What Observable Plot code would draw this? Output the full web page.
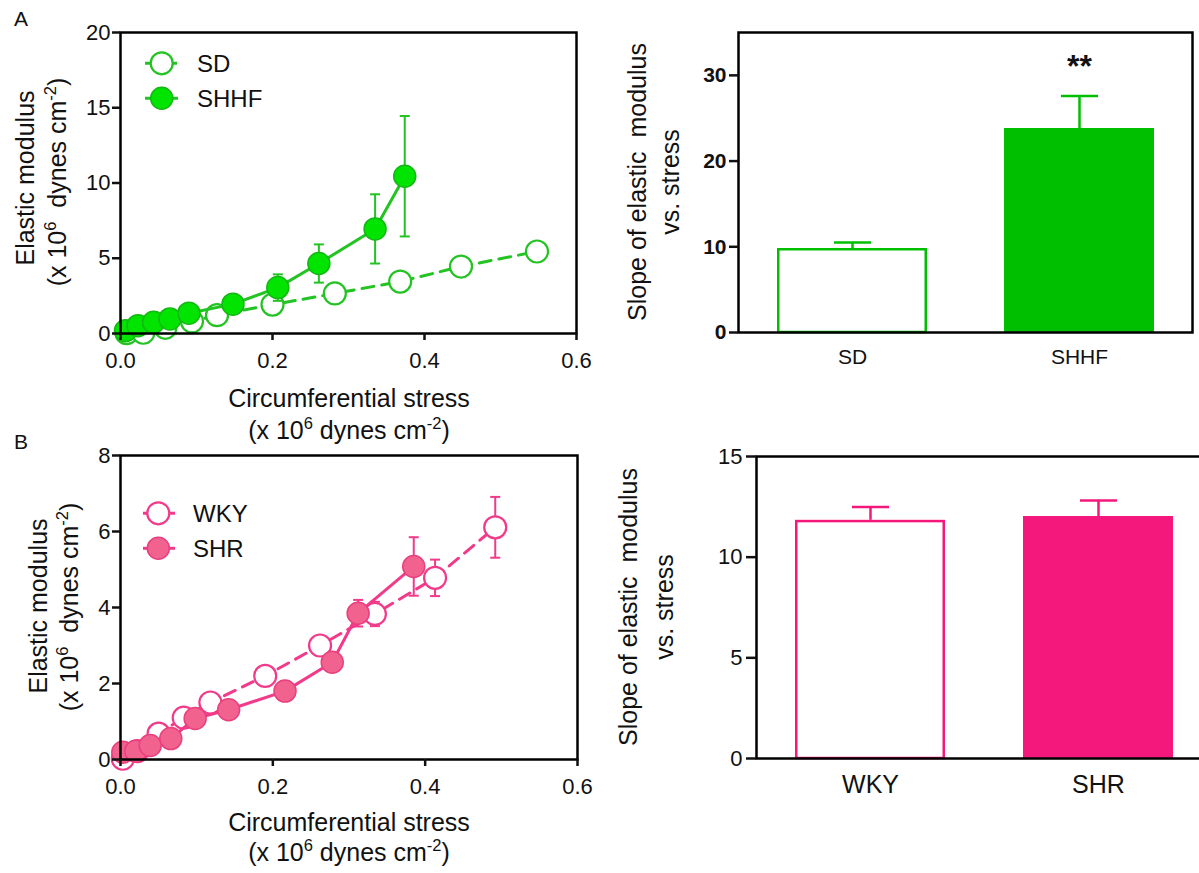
<!DOCTYPE html>
<html><head><meta charset="utf-8">
<script src="https://cdn.jsdelivr.net/npm/d3@7"></script>
<script src="https://cdn.jsdelivr.net/npm/@observablehq/plot@0.6"></script>
<style>
html,body{margin:0;padding:0;overflow:hidden;background:#fff;}
#fig{position:relative;width:1199px;height:873px;overflow:hidden;}
.panel{position:absolute;}
</style></head><body><div id="fig"></div>
<script>
// ---------- data ----------
const stressTicks = [0, 0.2, 0.4, 0.6];
const modulusTicksA = [0, 5, 10, 15, 20];
const modulusTicksB = [0, 2, 4, 6, 8];
const slopeTicksA = [0, 10, 20, 30];
const slopeTicksB = [0, 5, 10, 15];

// Panel A: SD (open) and SHHF (filled)
const sdStress   = [0.008, 0.030, 0.059, 0.094, 0.127, 0.200, 0.282, 0.368, 0.448, 0.548];
const sdModulus  = [0.02, 0.05, 0.38, 0.80, 1.22, 1.92, 2.66, 3.45, 4.45, 5.45];
const sdErr      = [0, 0, 0, 0, 0, 0.1, 0.15, 0.2, 0.25, 0.3];
const shhfStress = [0.0065, 0.023, 0.0435, 0.065, 0.090, 0.148, 0.207, 0.261, 0.335, 0.374];
const shhfModulus= [0.18, 0.52, 0.75, 0.97, 1.35, 1.95, 3.05, 4.65, 6.95, 10.45];
const shhfErr    = [0, 0, 0, 0, 0.2, 0.25, 0.88, 1.27, 2.3, 4.0];

// Panel B: WKY (open) and SHR (filled)
const wkyStress  = [0.003, 0.022, 0.050, 0.083, 0.118, 0.190, 0.262, 0.334, 0.413, 0.492];
const wkyModulus = [0.02, 0.22, 0.68, 1.10, 1.50, 2.20, 3.00, 3.83, 4.78, 6.11];
const wkyErr     = [0, 0, 0, 0, 0, 0, 0.15, 0.32, 0.48, 0.8];
const shrStress  = [0.003, 0.020, 0.039, 0.066, 0.098, 0.142, 0.216, 0.278, 0.312, 0.385];
const shrModulus = [0.19, 0.22, 0.37, 0.55, 1.08, 1.31, 1.80, 2.56, 3.85, 5.08];
const shrErr     = [0, 0, 0, 0, 0, 0, 0.1, 0.15, 0.35, 0.77];

// Slope bars
const slopeCatsA = ["SD", "SHHF"];
const slopeValsA = [9.8, 23.8];
const slopeErrA  = [0.7, 3.8];
const sigA       = ["", "**"];
const slopeCatsB = ["WKY", "SHR"];
const slopeValsB = [11.83, 12.02];
const slopeErrB  = [0.66, 0.8];
const sigB       = ["", ""];

// text
const panelLabels = ["A", "B"];
const xTitle1 = "Circumferential stress";
const yTitle1 = "Elastic modulus";
const slopeTitle1 = "Slope of elastic  modulus";
const slopeTitle2 = "vs. stress";

// ---------- style ----------
const FONT = '"Liberation Sans", Arial, Helvetica, sans-serif';
const green = {line: "#22c322", fill: "#00e400", edge: "#14b814", bar: "#00bf00"};
const pink  = {line: "#f23a8a", fill: "#f2628f", edge: "#e8407f", bar: "#f5187c"};
const TITLE = 25;

const capSym = { draw(ctx, size) { const w = Math.sqrt(size / Math.PI); ctx.moveTo(-w, 0); ctx.lineTo(w, 0); } };

const fig = document.getElementById("fig");
function place(svg, left, top, w, h) {
  const div = document.createElement("div");
  div.className = "panel";
  div.style.left = left + "px"; div.style.top = top + "px";
  div.style.width = w + "px"; div.style.height = h + "px";
  div.appendChild(svg);
  fig.appendChild(div);
  return d3.select(svg);
}

// rich text with superscripts: parts = [[text, isSup], ...]
function rich(sel, x, y, parts, size, opts = {}) {
  const t = sel.append("text")
    .attr("font-family", FONT).attr("font-size", size)
    .attr("fill", "#111").attr("text-anchor", opts.anchor || "middle")
    .style("white-space", "pre");
  if (opts.rotate) t.attr("transform", `translate(${x},${y}) rotate(-90)`);
  else t.attr("x", x).attr("y", y);
  if (opts.weight) t.attr("font-weight", opts.weight);
  const shift = size * 0.42;
  let raised = false;
  for (const [s, sup] of parts) {
    const sp = t.append("tspan").text(s);
    if (sup && !raised) { sp.attr("dy", -shift).attr("font-size", size * 0.66); raised = true; }
    else if (sup) { sp.attr("font-size", size * 0.66); }
    else if (!sup && raised) { sp.attr("dy", shift); raised = false; }
  }
  return t;
}
const unitsX = [["(x 10", 0], ["6", 1], [" dynes cm", 0], ["-2", 1], [")", 0]];
const unitsY = [["(x 10", 0], ["6", 1], ["  dynes cm", 0], ["-2", 1], [")", 0]];

function legend(svg, items, lx1, lx2, cx, tx, ys) {
  items.forEach((it, i) => {
    const y = ys[i];
    svg.append("line").attr("x1", lx1).attr("x2", lx2).attr("y1", y).attr("y2", y)
      .attr("stroke", it.c.line).attr("stroke-width", 3)
      .attr("stroke-dasharray", it.dashed ? "12,8" : null);
    svg.append("circle").attr("cx", cx).attr("cy", y).attr("r", 11)
      .attr("fill", it.filled ? it.c.fill : "white")
      .attr("stroke", it.filled ? it.c.edge : it.c.line)
      .attr("stroke-width", it.filled ? 1.5 : 2.2);
    svg.append("text").attr("x", tx).attr("y", y).attr("dy", "0.36em")
      .attr("text-anchor", "start")
      .attr("font-family", FONT).attr("font-size", 24).attr("fill", "#111").text(it.name);
  });
}

function lineChart(cfg) {
  const marks = [];
  for (const g of cfg.groups) {
    const rows = g.x.map((x, i) => ({x, y: g.y[i], e: g.err[i]}));
    const we = rows.filter(d => d.e > 0);
    marks.push(Plot.ruleX(we, {x: "x", y1: d => d.y - d.e, y2: d => d.y + d.e, stroke: g.c.line, strokeWidth: 2}));
    marks.push(Plot.dot(we, {x: "x", y: d => d.y + d.e, symbol: capSym, r: 5, fill: "none", stroke: g.c.line, strokeWidth: 2}));
    marks.push(Plot.dot(we, {x: "x", y: d => d.y - d.e, symbol: capSym, r: 5, fill: "none", stroke: g.c.line, strokeWidth: 2}));
    marks.push(Plot.line(rows, {x: "x", y: "y", stroke: g.c.line, strokeWidth: 3, strokeDasharray: g.dashed ? "12,8" : undefined}));
    marks.push(Plot.dot(rows, {x: "x", y: "y", r: 11, fill: g.filled ? g.c.fill : "white",
      stroke: g.filled ? g.c.edge : g.c.line, strokeWidth: g.filled ? 1.5 : 2.2}));
  }
  marks.push(Plot.frame({stroke: "#000", strokeWidth: 2.5}));
  marks.push(Plot.axisX({ticks: stressTicks, tickFormat: d3.format(".1f"), tickSize: 7, tickPadding: 12,
    fontSize: 22, strokeWidth: 2.5, label: null}));
  marks.push(Plot.axisY({ticks: cfg.yTicks, tickSize: 8, tickPadding: 2, fontSize: 22, strokeWidth: 2.5, label: null}));
  return Plot.plot({
    width: cfg.width, height: cfg.height,
    marginLeft: cfg.m[0], marginRight: cfg.m[1], marginTop: cfg.m[2], marginBottom: cfg.m[3],
    x: {domain: [0, 0.6], label: null},
    y: {domain: cfg.yDomain, label: null},
    style: {fontFamily: FONT, fontSize: "22px", background: "none", color: "#111", maxWidth: "none", overflow: "visible"},
    marks
  });
}

function barChart(cfg) {
  const rows = cfg.cats.map((c, i) => ({c, v: cfg.vals[i], e: cfg.err[i], s: cfg.sig[i], filled: i === 1}));
  const col = cfg.col;
  const marks = [
    Plot.ruleX(rows, {x: "c", y1: "v", y2: d => d.v + d.e, stroke: col.bar, strokeWidth: 2.5}),
    Plot.dot(rows, {x: "c", y: d => d.v + d.e, symbol: capSym, r: 18.5, fill: "none", stroke: col.bar, strokeWidth: 2.5}),
    Plot.barY(rows.filter(d => !d.filled), {x: "c", y: "v", fill: "white", stroke: col.bar, strokeWidth: 2.5,
      insetLeft: 1.25, insetRight: 1.25, insetTop: 1.25}),
    Plot.barY(rows.filter(d => d.filled), {x: "c", y: "v", fill: col.bar}),
    Plot.text(rows.filter(d => d.s), {x: "c", y: d => d.v + d.e, text: "s", dy: -29, fontSize: 32, fontWeight: "bold", fill: "#111"}),
    Plot.frame({stroke: "#000", strokeWidth: 2.5}),
    Plot.axisX({tickSize: 0, tickPadding: cfg.catPad, fontSize: cfg.catSize, label: null}),
    Plot.axisY({ticks: cfg.yTicks, tickSize: cfg.tick, tickPadding: cfg.tickPad, fontSize: cfg.tickFont,
      fontWeight: cfg.bold ? "bold" : "normal", strokeWidth: 2.5, label: null})
  ];
  return Plot.plot({
    width: cfg.width, height: cfg.height,
    marginLeft: cfg.m[0], marginRight: cfg.m[1], marginTop: cfg.m[2], marginBottom: cfg.m[3],
    x: {domain: cfg.cats, paddingInner: 0.34, paddingOuter: 0.17, label: null},
    y: {domain: cfg.yDomain, label: null},
    style: {fontFamily: FONT, fontSize: "22px", background: "none", color: "#111", maxWidth: "none", overflow: "visible"},
    marks
  });
}

// ---------- Panel A, line ----------
const aLine = place(lineChart({
  width: 600, height: 450, m: [120, 24, 32, 117], yDomain: [0, 20], yTicks: modulusTicksA,
  groups: [
    {x: sdStress, y: sdModulus, err: sdErr, c: green, dashed: true, filled: false},
    {x: shhfStress, y: shhfModulus, err: shhfErr, c: green, dashed: false, filled: true}
  ]
}), 0, 0, 600, 450);
legend(aLine, [{name: slopeCatsA[0], c: green, dashed: true}, {name: slopeCatsA[1], c: green, filled: true}],
  145, 178, 161.7, 197, [63.3, 98.3]);
rich(aLine, 349, 407, [[xTitle1, 0]], TITLE);
rich(aLine, 349, 439, unitsX, TITLE);
rich(aLine, 34, 178, [[yTitle1, 0]], TITLE, {rotate: true});
rich(aLine, 66, 182, unitsY, TITLE, {rotate: true});
aLine.append("text").attr("x", 14).attr("y", 26).attr("text-anchor", "start").attr("font-family", FONT)
  .attr("font-size", 21).attr("fill", "#111").text(panelLabels[0]);

// ---------- Panel A, bars ----------
const aBar = place(barChart({
  width: 599, height: 440, m: [138, 7, 32, 108], yDomain: [0, 35], yTicks: slopeTicksA,
  cats: slopeCatsA, vals: slopeValsA, err: slopeErrA, sig: sigA, col: green,
  tick: 9, tickPad: 3, tickFont: 21, bold: true, catPad: 17, catSize: 21
}), 600, 0, 599, 440);
rich(aBar, 46, 182, [[slopeTitle1, 0]], TITLE, {rotate: true});
rich(aBar, 79, 182, [[slopeTitle2, 0]], TITLE, {rotate: true});

// ---------- Panel B, line ----------
const bLine = place(lineChart({
  width: 600, height: 433, m: [120, 23, 15, 114], yDomain: [0, 8], yTicks: modulusTicksB,
  groups: [
    {x: wkyStress, y: wkyModulus, err: wkyErr, c: pink, dashed: true, filled: false},
    {x: shrStress, y: shrModulus, err: shrErr, c: pink, dashed: false, filled: true}
  ]
}), 0, 440, 600, 433);
legend(bLine, [{name: slopeCatsB[0], c: pink, dashed: true}, {name: slopeCatsB[1], c: pink, filled: true}],
  143, 175, 158.3, 193, [73.3, 108.3]);
rich(bLine, 349, 391, [[xTitle1, 0]], TITLE);
rich(bLine, 349, 421, unitsX, TITLE);
rich(bLine, 47, 166, [[yTitle1, 0]], TITLE, {rotate: true});
rich(bLine, 78, 167, unitsY, TITLE, {rotate: true});
bLine.append("text").attr("x", 14).attr("y", 9).attr("text-anchor", "start").attr("font-family", FONT)
  .attr("font-size", 21).attr("fill", "#111").text(panelLabels[1]);

// ---------- Panel B, bars ----------
const bBar = place(barChart({
  width: 620, height: 433, m: [156, 8, 16, 115], yDomain: [0, 15], yTicks: slopeTicksB,
  cats: slopeCatsB, vals: slopeValsB, err: slopeErrB, sig: sigB, col: pink,
  tick: 10, tickPad: 4, tickFont: 22, bold: false, catPad: 17, catSize: 25
}), 600, 440, 620, 433);
rich(bBar, 37, 167, [[slopeTitle1, 0]], TITLE, {rotate: true});
rich(bBar, 73, 167, [[slopeTitle2, 0]], TITLE, {rotate: true});
</script></body></html>
